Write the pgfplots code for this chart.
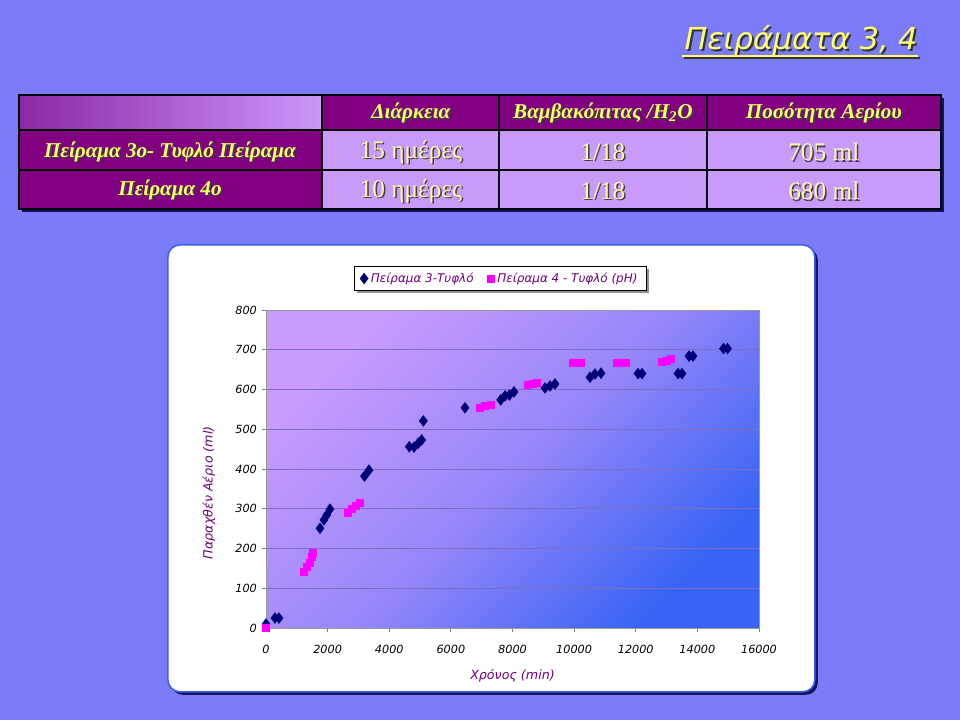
\documentclass[border=0pt]{standalone}
\usepackage{pgfplots}
\pgfplotsset{compat=1.18}
\usepackage{fontspec}
\usetikzlibrary{shadows}
\setmainfont{Liberation Serif}
\newfontfamily\cs{DejaVu Sans}[ItalicFont={DejaVu Sans Oblique}]
\definecolor{slidebg}{RGB}{124,124,248}
\definecolor{ttl}{RGB}{255,255,110}
\definecolor{body}{RGB}{255,248,170}
\definecolor{dp}{RGB}{128,0,128}
\definecolor{lav}{RGB}{200,155,250}
\definecolor{gradl}{RGB}{140,40,165}
\definecolor{gradr}{RGB}{205,150,250}
\definecolor{boxblue}{RGB}{60,95,240}
\definecolor{boxshadow}{RGB}{20,20,90}
\definecolor{navyc}{RGB}{0,0,120}
\definecolor{magc}{RGB}{255,0,255}
\definecolor{labc}{RGB}{110,0,120}
\definecolor{gridc}{RGB}{125,110,195}
\definecolor{bgul}{RGB}{200,155,252}
\definecolor{bgmid}{RGB}{150,135,249}
\definecolor{bglr}{RGB}{55,100,245}
\newcommand{\shnode}[5]{%
  \node[font=#3, text=black!75, inner sep=0] at (#1+1.5,#2+1.5) {#5};
  \node[font=#3, text=#4, inner sep=0] at (#1,#2) {#5};}
\newcommand{\hdrf}{\bfseries\itshape\fontsize{15}{17}\selectfont}
\newcommand{\bodyf}{\fontsize{18}{20}\selectfont}
\begin{document}
\begin{tikzpicture}
\useasboundingbox (0,0) rectangle (24cm,18cm);
\begin{scope}[x=0.025cm, y=-0.025cm, yshift=18cm]
\fill[slidebg] (0,0) rectangle (960,720);
% title
\node[font=\cs\itshape\fontsize{21.5}{24}\selectfont, text=black!80, anchor=base east, inner sep=0] at (920,52) {Πειράματα 3, 4};
\node[font=\cs\itshape\fontsize{21.5}{24}\selectfont, text=ttl, anchor=base east, inner sep=0] at (918,50) {Πειράματα 3, 4};
\draw[line width=1.4pt, black!80] (684,58)--(920,58);
\draw[line width=1.4pt, ttl] (682,56)--(918,56);
% table
\fill[boxshadow] (22,98) rectangle (944,212);
\shade[left color=gradl, right color=gradr] (19,95) rectangle (322,130);
\fill[dp] (322,95) rectangle (941,130);
\fill[dp] (19,130) rectangle (322,209);
\fill[lav] (322,130) rectangle (941,209);
\draw[black, line width=1pt] (19,130)--(941,130) (19,170)--(941,170) (322,95)--(322,209) (499,95)--(499,209) (707,95)--(707,209);
\draw[black, line width=1.6pt] (19,95) rectangle (941,209);
\shnode{411}{113}{\hdrf}{ttl}{Διάρκεια}
\shnode{603}{113}{\hdrf}{ttl}{Βαμβακόπιτας /H\textsubscript{2}O}
\shnode{824}{113}{\hdrf}{ttl}{Ποσότητα Αερίου}
\shnode{170}{152}{\hdrf}{ttl}{Πείραμα 3ο- Τυφλό Πείραμα}
\shnode{170}{190}{\hdrf}{ttl}{Πείραμα 4ο}
\shnode{411}{152}{\bodyf}{body}{15 ημέρες}
\shnode{603}{152}{\bodyf}{body}{1/18}
\shnode{824}{152}{\bodyf}{body}{705 ml}
\shnode{411}{191}{\bodyf}{body}{10 ημέρες}
\shnode{603}{191}{\bodyf}{body}{1/18}
\shnode{824}{191}{\bodyf}{body}{680 ml}
% chart box
\fill[boxshadow, rounded corners=0.3cm] (171,248) rectangle (818,695);
\draw[boxblue, fill=white, line width=1.1pt, rounded corners=0.3cm] (168,245) rectangle (815,692);
\end{scope}
\begin{axis}[
  at={(6.65cm,2.3cm)}, anchor=south west,
  scale only axis, width=12.325cm, height=7.95cm,
  xmin=0, xmax=16000, ymin=0, ymax=800,
  xtick={0,2000,...,16000}, ytick={0,100,...,800},
  scaled x ticks=false,
  /pgf/number format/set thousands separator={},
  /pgf/number format/assume math mode=true,
  ticklabel style={font=\cs\itshape\fontsize{8}{9}\selectfont, text=black},
  xticklabel style={yshift=-6pt},
  tick align=outside, xtick pos=bottom, ytick pos=left,
  major tick length=3pt,
  tick style={gray, line width=0.6pt},
  axis line style={gray!80, line width=0.6pt},
  ymajorgrids, grid style={gridc, line width=0.6pt},
  axis background/.style={shade, top color=bgul, bottom color=bglr, middle color=bgmid, shading angle=45},
  clip=false,
  xlabel={Χρόνος (min)},
  ylabel={Παραχθέν Αέριο (ml)},
  xlabel style={font=\cs\itshape\fontsize{9}{10}\selectfont, text=labc, at={(axis cs:8000,-120)}, anchor=center},
  ylabel style={font=\cs\itshape\fontsize{9}{10}\selectfont, text=labc, at={(axis cs:-1850,340)}, anchor=center},
  legend columns=2,
  legend style={at={(0.475,1.099)}, anchor=center, draw=black, fill=white,
    font=\cs\itshape\fontsize{8.5}{10}\selectfont, text=labc,
    drop shadow={shadow xshift=2pt, shadow yshift=-2pt, fill=black!85},
    /tikz/every even column/.append style={column sep=8pt},
    inner xsep=4pt, inner ysep=2.5pt},
  legend cell align=left,
]
\addplot[only marks, mark=diamond*, mark size=3.8pt, color=navyc] coordinates {
(0,10) (292,25) (422,25) (1753,251) (1882,272) (1969,284) (2077,299)
(3197,382) (3343,397) (4651,456) (4803,455) (4944,465) (5052,473) (5106,521)
(6458,554) (7616,574) (7757,584) (7898,586) (8049,594)
(9055,604) (9217,609) (9379,614) (10515,631) (10677,639) (10872,641)
(12073,640) (12203,640) (13371,640) (13501,640) (13728,684) (13858,684)
(14848,703) (14978,703)
};
\addlegendentry{Πείραμα 3-Τυφλό}
\addplot[only marks, mark=square*, mark size=2.5pt, color=magc] coordinates {
(0,0) (1212,142) (1320,153) (1407,163) (1482,178) (1515,189)
(2639,289) (2780,299) (2921,307) (3029,314)
(6945,555) (7108,558) (7292,561)
(8503,612) (8665,615) (8795,618)
(9963,667) (10093,667) (10223,667)
(11391,668) (11521,668) (11684,668)
(12852,669) (13014,672) (13144,677)
};
\addlegendentry{Πείραμα 4 - Τυφλό (pH)}
\end{axis}
\end{tikzpicture}
\end{document}
